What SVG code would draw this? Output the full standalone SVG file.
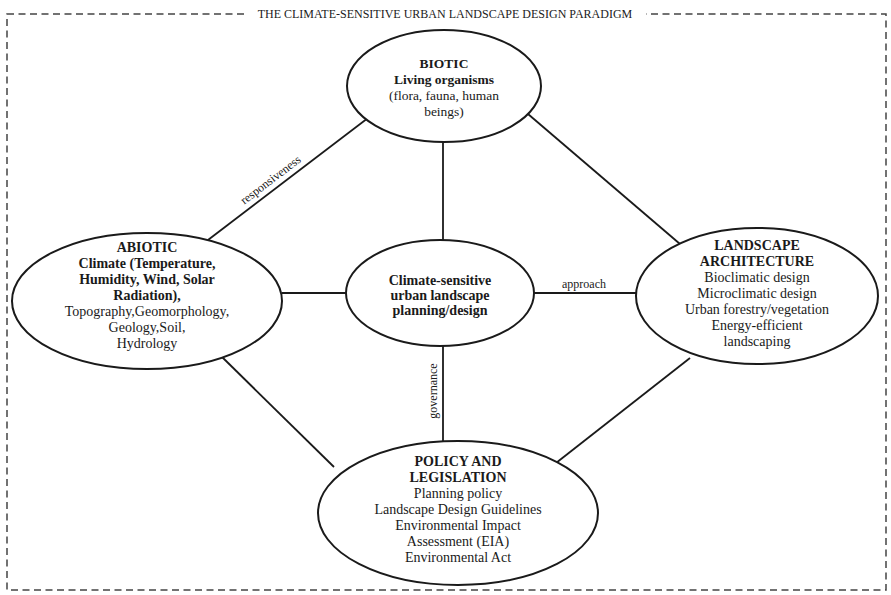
<svg xmlns="http://www.w3.org/2000/svg" width="891" height="595" viewBox="0 0 891 595">
<style>
.frame{fill:none;stroke:#444;stroke-width:1.5;stroke-dasharray:7 4.5}
.node{fill:#fff;stroke:#1a1a1a;stroke-width:2}
.edge{stroke:#1a1a1a;stroke-width:1.8;fill:none}
text{font-family:"Liberation Serif","Times New Roman",serif;fill:#1a1a1a;text-anchor:middle;font-size:14px}
.b{font-weight:bold}
.sm{font-size:13.5px}
.lbl{font-size:12px}
.title{font-size:12px}
</style>
<rect x="0" y="0" width="891" height="595" fill="#fff"/>
<rect class="frame" x="7" y="14" width="879" height="576"/>
<rect x="244" y="6" width="402" height="16" fill="#fff"/>
<text class="title" x="445" y="18">THE CLIMATE-SENSITIVE URBAN LANDSCAPE DESIGN PARADIGM</text>
<g id="connectors">
<line class="edge" x1="368" y1="118" x2="208" y2="240"/>
<line class="edge" x1="528" y1="114" x2="680" y2="244"/>
<line class="edge" x1="443" y1="142" x2="443" y2="240"/>
<line class="edge" x1="282" y1="293" x2="346" y2="293"/>
<line class="edge" x1="534" y1="293" x2="636" y2="293"/>
<line class="edge" x1="443" y1="346" x2="443" y2="441"/>
<line class="edge" x1="220" y1="355" x2="334" y2="467"/>
<line class="edge" x1="690" y1="358" x2="556" y2="463"/>
<text class="lbl" transform="translate(276,187) rotate(-37.3)" y="-5">responsiveness</text>
<text class="lbl" x="584" y="288">approach</text>
<text class="lbl" transform="translate(437,391) rotate(-90)">governance</text>
</g>
<g id="biotic">
<ellipse class="node" cx="444" cy="86" rx="97" ry="56"/>
<text class="b sm" x="444" y="68">BIOTIC</text>
<text class="b sm" x="444" y="84">Living organisms</text>
<text class="sm" x="444" y="100">(flora, fauna, human</text>
<text class="sm" x="444" y="116">beings)</text>
</g>
<g id="abiotic">
<ellipse class="node" cx="147" cy="301" rx="135" ry="68"/>
<text class="b" x="147" y="252">ABIOTIC</text>
<text class="b" x="147" y="268">Climate (Temperature,</text>
<text class="b" x="147" y="284">Humidity, Wind, Solar</text>
<text class="b" x="147" y="300">Radiation),</text>
<text x="147" y="316">Topography,Geomorphology,</text>
<text x="147" y="332">Geology,Soil,</text>
<text x="147" y="348">Hydrology</text>
</g>
<g id="center">
<ellipse class="node" cx="440" cy="293" rx="94" ry="53"/>
<text class="b" x="440" y="285">Climate-sensitive</text>
<text class="b" x="440" y="300">urban landscape</text>
<text class="b" x="440" y="315">planning/design</text>
</g>
<g id="landscape">
<ellipse class="node" cx="757" cy="296" rx="121" ry="68"/>
<text class="b" x="757" y="250">LANDSCAPE</text>
<text class="b" x="757" y="266">ARCHITECTURE</text>
<text x="757" y="282">Bioclimatic design</text>
<text x="757" y="298">Microclimatic design</text>
<text x="757" y="314">Urban forestry/vegetation</text>
<text x="757" y="330">Energy-efficient</text>
<text x="757" y="346">landscaping</text>
</g>
<g id="policy">
<ellipse class="node" cx="458" cy="513" rx="140" ry="72"/>
<text class="b" x="458" y="466">POLICY AND</text>
<text class="b" x="458" y="482">LEGISLATION</text>
<text x="458" y="498">Planning policy</text>
<text x="458" y="514">Landscape Design Guidelines</text>
<text x="458" y="530">Environmental Impact</text>
<text x="458" y="546">Assessment (EIA)</text>
<text x="458" y="562">Environmental Act</text>
</g>
</svg>
